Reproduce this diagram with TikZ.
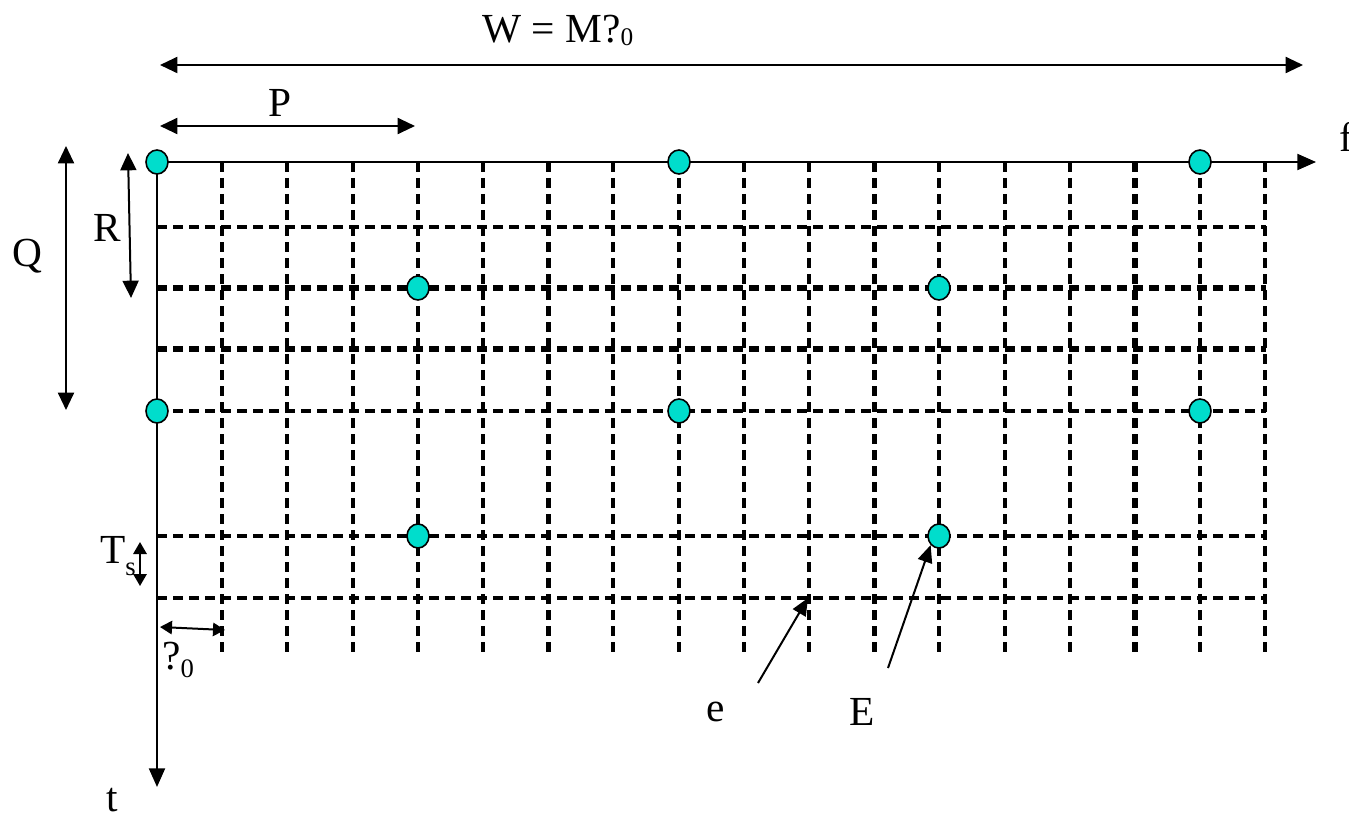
\documentclass[tikz,border=0pt]{standalone}
\usepackage{fontspec}
\setmainfont{Liberation Serif}
\usetikzlibrary{arrows.meta,shapes.geometric}
\begin{document}
\begin{tikzpicture}[x=0.75pt,y=-0.75pt,
  gridline/.style={line width=3pt, dash pattern=on 7.5pt off 4.5pt},
  gridthick/.style={line width=3.8pt, dash pattern=on 7.5pt off 4.5pt},
  axis/.style={line width=1.5pt, -{Triangle[length=14pt,width=12pt]}},
  dim/.style={line width=1.5pt, {Triangle[length=13pt,width=12pt]}-{Triangle[length=13pt,width=12pt]}},
  smalldim/.style={line width=1.5pt, {Triangle[length=9pt,width=10pt]}-{Triangle[length=9pt,width=10pt]}},
  pointer/.style={line width=1.5pt, -{Triangle[length=13pt,width=11pt]}},
  dot/.style={ellipse, draw, line width=1.2pt, fill=dotcyan, minimum width=16.5pt, minimum height=18pt, inner sep=0pt},
  lbl/.style={font=\fontsize{31}{37}\selectfont, inner sep=0pt}
]
\definecolor{dotcyan}{HTML}{00DDCC}
\useasboundingbox (0,0) rectangle (1349,820);
% grid columns
\foreach \i in {1,...,17}{
  \draw[gridline] ({157+65.2*\i},162) -- ({157+65.2*\i},658);
}
\foreach \i in {6,11,15}{
  \draw[gridthick] ({157+65.2*\i},162) -- ({157+65.2*\i},658);
}
% grid rows
\foreach \y in {227,411,536,598}{
  \draw[gridline] (157,\y) -- (1266,\y);
}
\foreach \y in {288,349}{
  \draw[gridthick] (157,\y) -- (1266,\y);
}
% axes
\coordinate (O) at (157,162);
\coordinate (fend) at (1316,162);
\coordinate (tend) at (157,787);
\draw[axis] (O) -- (fend);
\draw[axis] (O) -- (tend);
\node[lbl, anchor=west] (f) at (1339,137) {f};
\node[lbl] (t) at (112,800) {t};
% dots
\node[dot] (d1) at (157,162) {};
\node[dot] (d2) at (679,162) {};
\node[dot] (d3) at (1200,162) {};
\node[dot] (d4) at (418,288) {};
\node[dot] (d5) at (939,288) {};
\node[dot] (d6) at (157,411) {};
\node[dot] (d7) at (679,411) {};
\node[dot] (d8) at (1200,411) {};
\node[dot] (d9) at (418,536) {};
\node[dot] (d10) at (939,536) {};
% W dimension
\coordinate (wl) at (160,65);
\coordinate (wr) at (1303,65);
\draw[dim] (wl) -- (wr);
\node[lbl, anchor=base] (W) at (558,43) {W = M?\raisebox{-0.05em}{\fontsize{19}{22}\selectfont 0}};
% P dimension
\coordinate (pl) at (160,126);
\coordinate (pr) at (415,126);
\draw[dim] (pl) -- (pr);
\node[lbl] (P) at (280,103) {P};
% Q dimension
\coordinate (qt) at (66,146);
\coordinate (qb) at (66,410);
\draw[dim] (qt) -- (qb);
\node[lbl] (Q) at (27,256) {Q};
% R dimension
\coordinate (rt) at (128,153);
\coordinate (rb) at (131,298);
\draw[dim] (rt) -- (rb);
\node[lbl] (R) at (107,228) {R};
% Ts dimension
\coordinate (tst) at (140,542);
\coordinate (tsb) at (140,586);
\draw[smalldim] (tst) -- (tsb);
\node[lbl] (Ts) at (118,556) {T\raisebox{-0.3em}{\fontsize{20}{24}\selectfont s}};
% nu0 dimension
\coordinate (nl) at (160,627);
\coordinate (nr) at (225,630);
\draw[smalldim] (nl) -- (nr);
\node[lbl] (n0) at (178,660) {?\raisebox{-0.2em}{\fontsize{20}{24}\selectfont 0}};
% pointers
\node[lbl] (e) at (716,712) {e};
\node[lbl] (E) at (862,712) {E};
\coordinate (es) at (758,683);
\coordinate (ee) at (808,598);
\draw[pointer] (es) -- (ee);
\coordinate (Es) at (888,668);
\draw[pointer] (Es) -- (d10.south west);
\end{tikzpicture}
\end{document}
